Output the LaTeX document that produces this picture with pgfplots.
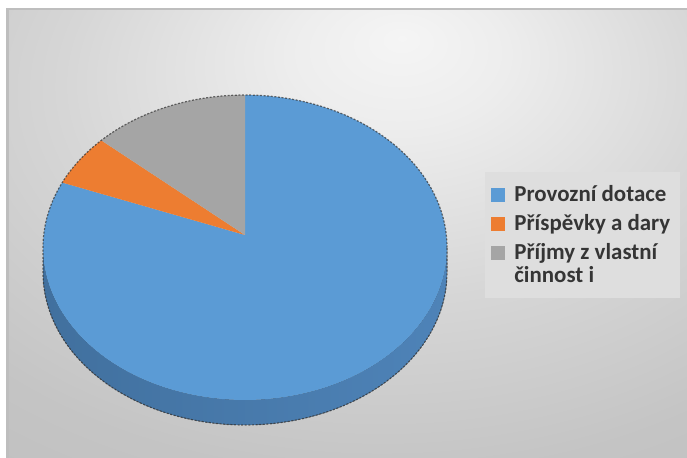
\documentclass[border=0pt]{standalone}
\usepackage{pgfplots}
\pgfplotsset{compat=1.18}
\usepackage{pgfplotstable}
\usepackage{fontspec}
\setmainfont{Carlito}

\definecolor{provoz}{HTML}{5B9BD5}
\definecolor{prispevky}{HTML}{ED7D31}
\definecolor{prijmy}{HTML}{A5A5A5}
\definecolor{sidedark}{HTML}{41709E}
\definecolor{sidelight}{HTML}{4E83B8}
\definecolor{legendtext}{HTML}{353535}
\definecolor{legendfill}{HTML}{DEDEDE}
\definecolor{frameband}{HTML}{BEBEBE}

% background: light spot near the top, grey towards the edges
\pgfdeclareradialshading{chartbg}{\pgfpoint{4bp}{22bp}}{%
  color(0bp)=(white!96!black); color(8bp)=(white!93!black);
  color(24bp)=(white!84!black); color(40bp)=(white!77!black);
  color(50bp)=(white!75!black); color(100bp)=(white!75!black)}

\pgfplotsset{
  square legend/.style={
    legend image code/.code={\fill[##1, draw=none] (0bp,-0.2bp) rectangle (7bp,6.8bp);}
  }
}

% shares of the three sources (percent)
\pgfplotstableread{
value
82.0
5.4
12.6
}\piedata

\pgfplotstablegetelem{0}{value}\of\piedata \let\va\pgfplotsretval
\pgfplotstablegetelem{1}{value}\of\piedata \let\vb\pgfplotsretval
\pgfplotstablegetelem{2}{value}\of\piedata \let\vc\pgfplotsretval

% slice angles, clockwise from 12 o'clock
\pgfmathsetmacro\tA{90}
\pgfmathsetmacro\tB{\tA-3.6*\va}
\pgfmathsetmacro\tC{\tB-3.6*\vb}
\pgfmathsetmacro\tD{\tC-3.6*\vc}

% pie geometry in pixel units of the axis
\def\cx{245}  \def\cy{247.5}
\def\rx{202}  \def\ry{152.5}
\def\apx{245} \def\apy{235}
\def\dep{25}

\begin{document}
\begin{tikzpicture}
\begin{axis}[
    width=343.5bp, height=229bp, scale only axis,
    hide axis, clip=false,
    xmin=0, xmax=687, ymin=0, ymax=458, y dir=reverse,
    legend style={
        at={(0.706,0.6245)}, anchor=north west,
        fill=legendfill, draw=none,
        font=\fontsize{11.5}{12}\selectfont\bfseries, text=legendtext,
        inner xsep=3bp, inner ysep=1.5bp, row sep=-2bp,
        cells={anchor=base west, inner ysep=0.5bp,
               text height=11bp, text depth=2.5bp},
        /tikz/every odd column/.append style={column sep=2.5bp},
    },
]
  % frame and background
  \fill[white] (0,0) rectangle (687,458);
  \fill[frameband] (6,8) rectangle (687,458);
  \shade[shading=chartbg] (9,11) rectangle (687,458);

  % side wall of the pie
  \fill[left color=sidedark, right color=sidelight]
    plot[domain=-180:0, samples=90] ({\cx+\rx*cos(\x)},{\cy-\ry*sin(\x)})
    -- plot[domain=0:-180, samples=90] ({\cx+\rx*cos(\x)},{\cy+\dep-\ry*sin(\x)})
    -- cycle;

  % slices on top
  \fill[provoz] (\apx,\apy)
    -- plot[domain=\tA:\tB, samples=120] ({\cx+\rx*cos(\x)},{\cy-\ry*sin(\x)}) -- cycle;
  \fill[prispevky] (\apx,\apy)
    -- plot[domain=\tB:\tC, samples=20] ({\cx+\rx*cos(\x)},{\cy-\ry*sin(\x)}) -- cycle;
  \fill[prijmy] (\apx,\apy)
    -- plot[domain=\tC:\tD, samples=30] ({\cx+\rx*cos(\x)},{\cy-\ry*sin(\x)}) -- cycle;

  % dotted silhouette
  \draw[black!80, opacity=0.7, line width=0.6bp, dash pattern=on 1bp off 0.8bp]
    plot[domain=0:180, samples=90] ({\cx+\rx*cos(\x)},{\cy-\ry*sin(\x)})
    -- plot[domain=180:360, samples=90] ({\cx+\rx*cos(\x)},{\cy+\dep-\ry*sin(\x)})
    -- cycle;

  \addlegendimage{square legend, fill=provoz}
  \addlegendimage{square legend, fill=prispevky}
  \addlegendimage{square legend, fill=prijmy}
  \addlegendimage{empty legend}
  \legend{Provozní dotace, Příspěvky a dary, Příjmy z vlastní,
    {\raisebox{3bp}{činnost i}}}
\end{axis}
\end{tikzpicture}
\end{document}
